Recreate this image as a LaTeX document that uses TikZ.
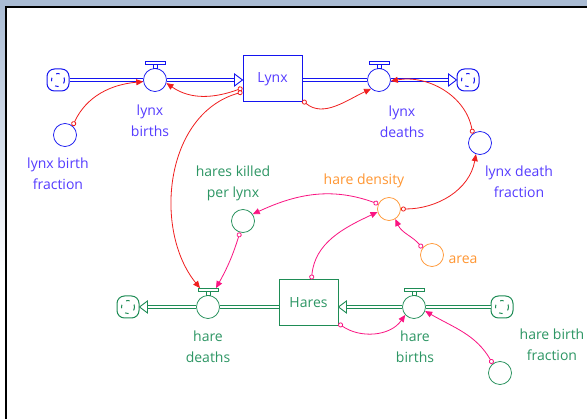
\documentclass[tikz,border=0pt]{standalone}
\usepackage{fontspec}
\setmainfont{Open Sans}
\usetikzlibrary{arrows.meta,calc}
\definecolor{lxb}{RGB}{20,20,240}
\definecolor{lxt}{RGB}{85,60,255}
\definecolor{hg}{RGB}{30,140,85}
\definecolor{hgt}{RGB}{45,150,100}
\definecolor{orng}{RGB}{255,150,50}
\definecolor{rd}{RGB}{240,30,30}
\definecolor{pk}{RGB}{250,20,130}
\definecolor{frame}{RGB}{170,188,212}
\tikzset{
  lbl/.style={font=\fontsize{14}{21}\selectfont, align=center, inner sep=0pt},
  aux/.style={circle, draw, line width=0.75pt, minimum size=23pt, inner sep=0pt},
  valvec/.style={circle, draw, line width=0.75pt, fill=white, minimum size=23pt, inner sep=0pt},
  stock/.style={rectangle, draw, line width=1pt, minimum width=59pt, minimum height=46pt, inner sep=0pt, font=\fontsize{14}{17}\selectfont},
  cloudbox/.style={rectangle, rounded corners=7.5pt, draw, line width=1pt, minimum size=22pt, inner sep=0pt},
  pipe/.style={draw, double=white, double distance=2.2pt, line width=1pt},
  conn/.style={line width=0.8pt, {Circle[open,length=5pt,width=5pt]}-{Triangle[length=7pt,width=6pt]}},
}
\newcommand\mkvalve[4]{%
  \node[valvec, draw=#4] (#1) at (#2,#3) {};
  \draw[#4, line width=0.8pt, fill=white] ([xshift=-2pt]#1.north) rectangle ([xshift=2pt,yshift=4pt]#1.north);
  \draw[#4, line width=0.8pt, fill=white] ([xshift=-10pt,yshift=4pt]#1.north) rectangle ([xshift=10pt,yshift=7pt]#1.north);
}
\newcommand\mkcloud[4]{%
  \node[cloudbox, draw=#4] (#1) at (#2,#3) {};
  \draw[#4, line width=1pt, dash pattern=on 3.5pt off 6pt, dash phase=1pt] (#1.center) circle (6.5pt);
}
\begin{document}
\begin{tikzpicture}[x=1pt,y=1pt]
\useasboundingbox (0,0) rectangle (587,419);
\fill[white] (0,0) rectangle (587,419);
\shade[top color=frame, bottom color=white] (0,140) rectangle (6,419);
\fill[frame] (0,412) rectangle (587,419);
\draw[black, line width=2pt] (6,0) -- (6,412) -- (587,412);

% ---------- Lynx sector ----------
\mkcloud{c1}{58}{339}{lxb}
\mkvalve{lbv}{155}{339}{lxb}
\node[stock, draw=lxb, text=lxt] (lynx) at (272.5,340) {Lynx};
\mkvalve{ldv}{379}{339}{lxb}
\mkcloud{c2}{468}{339}{lxb}

\draw[pipe, lxb] (c1.east) -- (lbv.west);
\draw[pipe, lxb] (lbv.east) -- ([xshift=-8pt]lynx.west |- lbv);
\draw[lxb, line width=0.9pt, fill=white] ([xshift=-8pt,yshift=6pt]lynx.west |- lbv) -- (lynx.west |- lbv) -- ([xshift=-8pt,yshift=-6pt]lynx.west |- lbv) -- cycle;
\draw[pipe, lxb] (lynx.east |- ldv) -- (ldv.west);
\draw[pipe, lxb] (ldv.east) -- ([xshift=-8pt]c2.west);
\draw[lxb, line width=0.9pt, fill=white] ([xshift=-8pt,yshift=6pt]c2.west) -- (c2.west) -- ([xshift=-8pt,yshift=-6pt]c2.west) -- cycle;

\node[aux, draw=lxb] (lbf) at (65,284) {};
\node[aux, draw=lxb] (ldf) at (480,276) {};

\node[lbl, text=lxt] (lbvl) at (150,298) {lynx\\births};
\node[lbl, text=lxt] (lbfl) at (58,245) {lynx birth\\fraction};
\node[lbl, text=lxt] (ldvl) at (402,297) {lynx\\deaths};
\node[lbl, text=lxt] (ldfl) at (519,237) {lynx death\\fraction};

% ---------- Hare sector ----------
\mkcloud{c3}{128}{112}{hg}
\mkvalve{hdv}{208}{112}{hg}
\node[stock, draw=hg, text=hgt] (hares) at (308.5,116) {Hares};
\mkvalve{hbv}{414}{112}{hg}
\mkcloud{c4}{502}{112}{hg}

\draw[pipe, hg] (hares.west |- hdv) -- (hdv.east);
\draw[pipe, hg] (hdv.west) -- ([xshift=8pt]c3.east);
\draw[hg, line width=0.9pt, fill=white] ([xshift=8pt,yshift=6pt]c3.east) -- (c3.east) -- ([xshift=8pt,yshift=-6pt]c3.east) -- cycle;
\draw[pipe, hg] (c4.west) -- (hbv.east);
\draw[pipe, hg] (hbv.west) -- ([xshift=8pt]hares.east |- hbv);
\draw[hg, line width=0.9pt, fill=white] ([xshift=8pt,yshift=6pt]hares.east |- hbv) -- (hares.east |- hbv) -- ([xshift=8pt,yshift=-6pt]hares.east |- hbv) -- cycle;

\node[aux, draw=hg] (hkpl) at (243,198) {};
\node[aux, draw=hg] (hbf) at (500,46) {};
\node[aux, draw=orng] (hd) at (389,210) {};
\node[aux, draw=orng] (area) at (432,164) {};

\node[lbl, text=hgt] (hdvl) at (208,72) {hare\\deaths};
\node[lbl, text=hgt] (hbvl) at (415,72) {hare\\births};
\node[lbl, text=hgt] (hbfl) at (552,74) {hare birth\\fraction};
\node[lbl, text=hgt] (hkpll) at (233,236) {hares killed\\per lynx};
\node[lbl, text=orng] (hdl) at (364,238) {hare density};
\node[lbl, text=orng] (areal) at (463,159) {area};

% ---------- connectors ----------
\draw[conn, rd] (lbf.50) to[out=65,in=185] (lbv.188);
\draw[conn, rd] ([yshift=-9pt]lynx.west) to[out=200,in=-35] (lbv.-15);
\draw[conn, rd] ([yshift=2pt]lynx.south east) to[out=-40,in=205] (ldv.228);
\draw[conn, rd] (ldf.128) to[out=100,in=10] (ldv.-5);
\draw[conn, rd] (hd.0) to[out=0,in=260] (ldf.250);
\draw[conn, rd] ([yshift=-13pt]lynx.west) .. controls +(-78,-22) and +(-47,58) .. ([xshift=-8pt,yshift=7pt]hdv.north);

\draw[conn, pk] (hd.155) to[out=160,in=25] (hkpl.35);
\draw[conn, pk] (hkpl.255) to[bend left=6] ([xshift=8pt,yshift=7pt]hdv.north);
\draw[conn, pk] ([xshift=3pt]hares.north) to[out=85,in=205] (hd.195);
\draw[conn, pk] (area.144) to[out=130,in=-65] (hd.-58);
\draw[conn, pk] ([yshift=3pt]hares.south east) to[out=-35,in=235] (hbv.222);
\draw[conn, pk] (hbf.128) to[out=120,in=-30] (hbv.-20);
\end{tikzpicture}
\end{document}
